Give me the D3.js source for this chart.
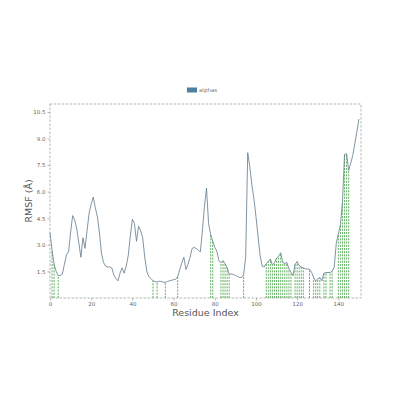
<!DOCTYPE html>
<html><head><meta charset="utf-8">
<script src="https://cdn.jsdelivr.net/npm/d3@7"></script>
<style>body{margin:0;background:#fff}svg{display:block}</style>
</head><body>
<script>
const residues = d3.range(0, 151);
const rmsf = [
3.7,2.7,1.9,1.5,1.26,1.28,1.35,1.9,2.45,2.6,
3.7,4.65,4.4,3.9,3.1,2.3,3.4,2.8,3.8,4.8,
5.3,5.7,5.1,4.6,3.7,2.5,2.0,1.8,1.75,1.75,
1.7,1.3,1.1,0.97,1.4,1.7,1.4,1.8,2.4,3.5,
4.45,4.2,3.2,4.05,3.8,3.4,2.3,1.5,1.2,1.1,
0.97,0.92,0.9,0.95,0.93,0.9,0.88,0.93,0.97,1.0,
1.03,1.06,1.2,1.6,2.0,2.3,1.6,1.9,2.3,2.8,
2.85,2.8,2.7,2.6,3.8,5.2,6.2,4.2,3.6,3.2,
2.86,2.65,2.1,2.0,2.1,1.95,1.7,1.35,1.35,1.33,
1.28,1.22,1.16,1.16,1.3,2.3,8.2,7.4,6.4,5.6,
4.6,3.5,2.4,1.8,1.75,1.95,2.05,2.2,1.85,2.0,
2.25,2.35,2.55,2.0,1.95,2.0,1.65,1.45,1.26,1.9,
2.05,1.82,1.75,1.7,1.65,1.63,1.63,1.45,1.15,0.97,
1.07,1.15,0.97,1.4,1.44,1.44,1.44,1.5,1.75,3.1,
3.6,4.1,5.4,8.1,8.14,7.2,7.6,8.05,8.7,9.4,
10.1];
const helixResidues = [1,2,4,50,52,56,62,78,79,83,84,85,86,87,94,
105,106,107,108,109,110,111,112,113,114,115,116,117,119,120,121,122,123,
126,128,129,130,131,133,134,136,137,140,141,142,143,144,145];
const xTicks = [0,20,40,60,80,100,120,140];
const yTicks = [1.5,3.0,4.5,6.0,7.5,9.0,10.5];
const seriesName = "alphas";

const W=400,H=400;
const m={l:50,r:361,t:104,b:298};
const svg=d3.select("body").append("svg").attr("width",W).attr("height",H);
const x=d3.scaleLinear().domain([0,151]).range([m.l,m.r]);
const y=d3.scaleLinear().domain([0,10.95]).range([m.b,m.t]);

// green helix markers
svg.append("g").selectAll("line").data(helixResidues).join("line")
  .attr("x1",d=>x(d)).attr("x2",d=>x(d))
  .attr("y1",y(0)).attr("y2",d=>y(rmsf[d]))
  .attr("stroke","#3a9a3a").attr("stroke-width",0.8).attr("stroke-dasharray","2,1.2");

// line
svg.append("path").datum(residues)
  .attr("fill","none").attr("stroke","#5f7a8c").attr("stroke-width",0.8)
  .attr("d",d3.line().x(d=>x(d)).y(d=>y(rmsf[d])));

// frame dashed
svg.append("rect").attr("x",m.l).attr("y",m.t).attr("width",m.r-m.l).attr("height",m.b-m.t)
  .attr("fill","none").attr("stroke","#999").attr("stroke-width",0.7).attr("stroke-dasharray","2.5,1.5");

// axes
const xa=svg.append("g").attr("transform",`translate(0,${m.b})`)
  .call(d3.axisBottom(x).tickValues(xTicks).tickFormat(d3.format("d")).tickSize(2.5).tickPadding(2));
const ya=svg.append("g").attr("transform",`translate(${m.l},0)`)
  .call(d3.axisLeft(y).tickValues(yTicks).tickFormat(d3.format(".1f")).tickSize(2.5).tickPadding(2));
[xa,ya].forEach(a=>{
  a.select(".domain").remove();
  a.selectAll(".tick line").attr("stroke","#888").attr("stroke-width",0.6);
  a.selectAll(".tick text").attr("fill","#666").attr("font-size","5.5px").attr("font-family","DejaVu Sans");
});

// labels
svg.append("text").attr("x",(m.l+m.r)/2).attr("y",316).attr("text-anchor","middle")
  .attr("font-family","DejaVu Sans").attr("font-size","9.5px").attr("fill","#555").text("Residue Index");
svg.append("text").attr("transform",`translate(32,${(m.t+m.b)/2}) rotate(-90)`).attr("text-anchor","middle")
  .attr("font-family","DejaVu Sans").attr("font-size","9.5px").attr("fill","#555").text("RMSF (Å)");

// legend
svg.append("rect").attr("x",187).attr("y",87.5).attr("width",10).attr("height",5).attr("fill","#4f7ea3");
svg.append("text").attr("x",199).attr("y",92.3).attr("font-family","DejaVu Sans").attr("font-size","5.5px")
  .attr("fill","#777").text(seriesName);
</script>
</body></html>
